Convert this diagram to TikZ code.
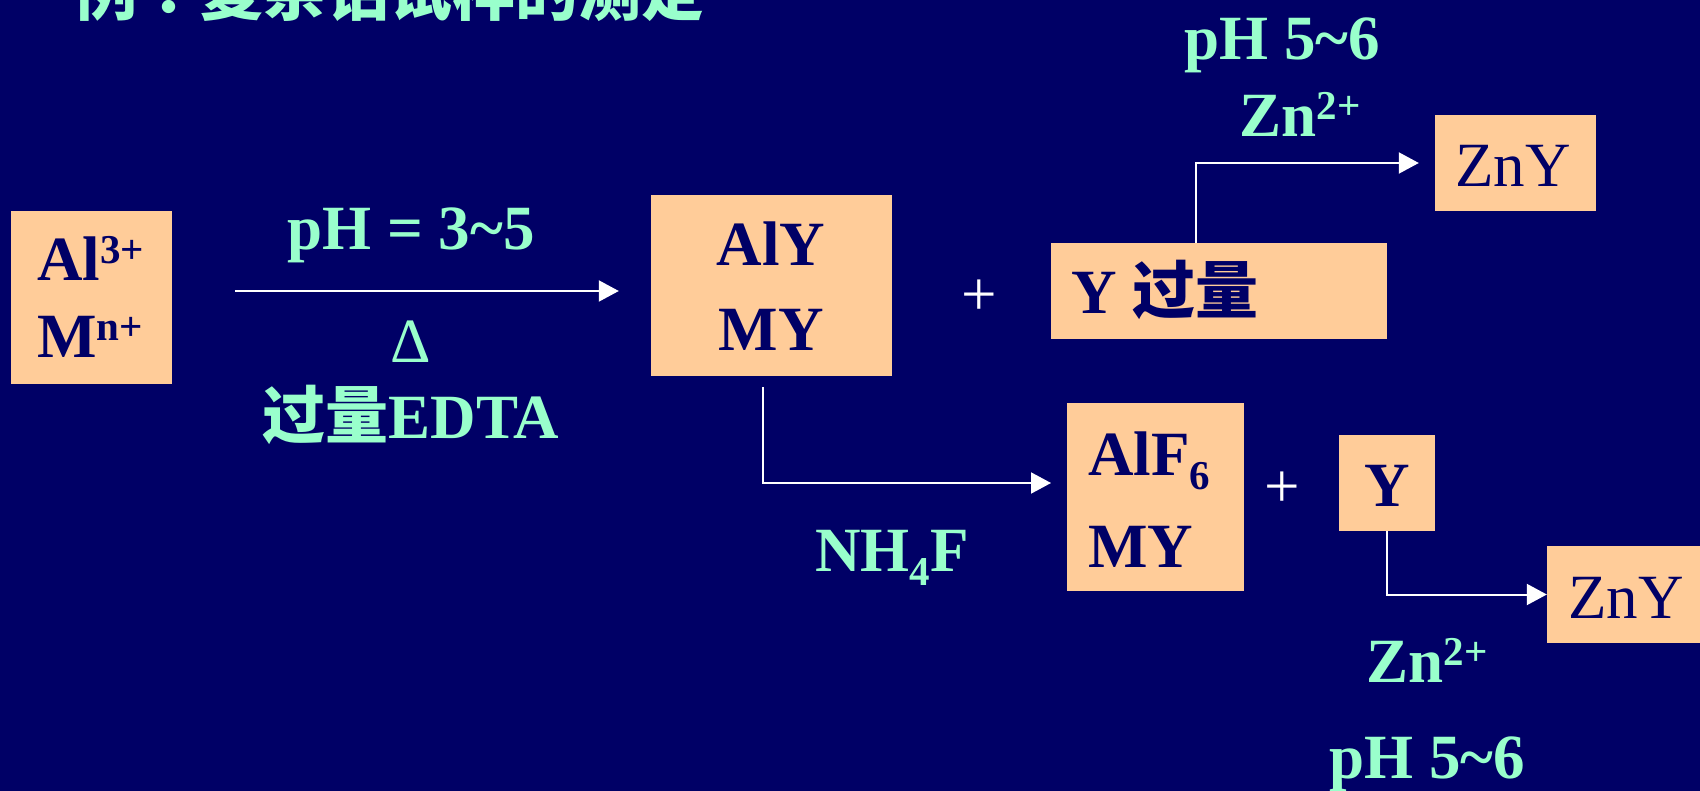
\documentclass[tikz,border=0pt]{standalone}
\usepackage{fontspec}
\setmainfont{Liberation Serif}
\newfontfamily\cjk{Noto Sans CJK SC}
\newfontfamily\cjktc{Noto Sans CJK TC}
\usetikzlibrary{arrows.meta}
\definecolor{bg}{HTML}{000066}
\definecolor{peach}{HTML}{FFCC99}
\definecolor{mint}{HTML}{99FFCC}
\definecolor{navy}{HTML}{000066}
\newcommand{\fbig}{\fontsize{63}{70}\selectfont}
\newcommand{\supx}[1]{\raisebox{17pt}{\fontsize{41}{41}\selectfont #1}}
\newcommand{\subx}[1]{\raisebox{-14pt}{\fontsize{41}{41}\selectfont #1}}
\begin{document}
\begin{tikzpicture}[x=1pt,y=-1pt,
  box/.style={fill=peach, draw=none, inner sep=0pt},
  lbl/.style={text=mint, font=\fbig\bfseries, inner sep=0pt, anchor=base},
  btxt/.style={text=navy, font=\fbig\bfseries, inner sep=0pt},
  rtxt/.style={text=navy, font=\fbig, inner sep=0pt},
  plus/.style={text=white, font=\fbig, inner sep=0pt},
  arr/.style={color=white, line width=2pt, -{Triangle[length=20pt,width=21pt]}}]
\useasboundingbox (0,0) rectangle (1700,791);
\fill[bg] (0,0) rectangle (1700,791);
\clip (0,0) rectangle (1700,791);

% boxes
\node[box, minimum width=161pt, minimum height=173pt] (alm) at (91.5,297.5) {};
\node[box, minimum width=241pt, minimum height=181pt] (aly) at (771.5,285.5) {};
\node[box, minimum width=336pt, minimum height=96pt] (yex) at (1219,291) {};
\node[box, minimum width=161pt, minimum height=96pt] (zny1) at (1515.5,163) {};
\node[box, minimum width=177pt, minimum height=188pt] (alf) at (1155.5,497) {};
\node[box, minimum width=96pt, minimum height=96pt] (yb) at (1387,483) {};
\node[box, minimum width=163pt, minimum height=97pt] (zny2) at (1628.5,594.5) {};

% box texts
\node[btxt, anchor=base west] (tal) at (37,281) {Al\supx{3+}};
\node[btxt, anchor=base west] (tm) at (37,358) {M\supx{n+}};
\node[btxt, anchor=base] (taly) at (771,266) {AlY};
\node[btxt, anchor=base] (tmya) at (771,351) {MY};
\node[btxt, anchor=base west] (tyex) at (1071,314) {Y {\cjk 过量}};
\node[rtxt, anchor=base] (tznya) at (1513,187) {ZnY};
\node[btxt, anchor=base west] (talf) at (1088,475) {AlF\subx{6}};
\node[btxt, anchor=base west] (tmyb) at (1088,567) {MY};
\node[btxt, anchor=base] (ty) at (1387,506) {Y};
\node[rtxt, anchor=base] (tznyb) at (1626,618) {ZnY};

% labels
\node[lbl, anchor=base west] (title) at (74,16) {{\cjk 例}{\cjktc ：}{\cjk 复杂铝试样的测定}};
\node[lbl] (lpha) at (411,250) {pH = 3\textasciitilde 5};
\node[lbl, font=\fbig] (ldelta) at (411,363) {Δ};
\node[lbl] (ledta) at (411,438) {{\cjk 过量}EDTA};
\node[lbl] (lphb) at (1282,60) {pH 5\textasciitilde 6};
\node[lbl] (lzna) at (1300,137) {Zn\supx{2+}};
\node[lbl] (lnh) at (892,571) {NH\subx{4}F};
\node[lbl] (lznb) at (1427,682) {Zn\supx{2+}};
\node[lbl] (lphc) at (1427,778) {pH 5\textasciitilde 6};

% plus signs
\node[plus] (pa) at (979,298) {+};
\node[plus] (pb) at (1282,490) {+};

% arrows
\coordinate (a1s) at (235,291);
\draw[arr, shorten >=32pt] (a1s) -- (a1s -| aly.west);
\coordinate (a2s) at (1196,243);
\draw[arr, shorten >=16pt] (a2s) |- (zny1.west);
\coordinate (a3s) at (763,387);
\coordinate (a3e) at (1051,483);
\draw[arr] (a3s) |- (a3e);
\draw[arr] (yb.south) |- (zny2.west);
\end{tikzpicture}
\end{document}
